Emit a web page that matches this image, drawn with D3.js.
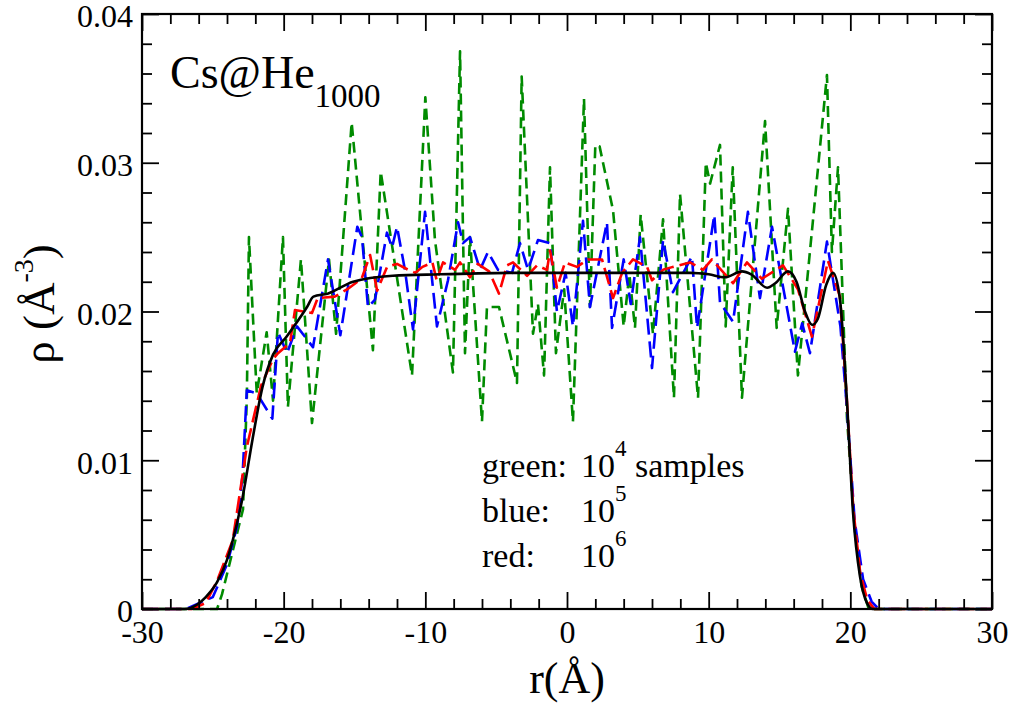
<!DOCTYPE HTML>
<html>
<head>
    <meta charset="utf-8">
    <title>Cs@He1000 density profile</title>
    <script src="https://d3js.org/d3.v7.min.js"></script>
    <style>
        body {
            margin: 0;
            background: white;
        }
        svg text {
            font-family: "Liberation Serif", "Times New Roman", serif;
            fill: black;
        }
        .tick line {
            stroke: black;
            stroke-width: 1.8px;
        }
        .curve {
            fill: none;
            stroke-width: 2.6px;
            stroke-linejoin: round;
        }
    </style>
</head>
<body>
<div id="chart"></div>
<script>
    // density profiles rho(r)
    var greenR = [-30, -24.7, -24.35, -22.87, -22.6, -22.45, -21.9, -21.2, -20.75, -20.05, -19.7, -18.78, -18.0,
        -16.8, -16.3, -15.2, -13.7, -13.15, -10.94, -10.0, -9.32, -8.05, -7.55, -7.2, -6.85, -6.0, -5.65, -4.8,
        -3.53, -3.2, -2.4, -2.05, -1.62, -1.2, -0.78, -0.2, 0.42, 1.2, 1.62, 2.0, 2.3, 3.25, 4.0, 4.4, 4.8, 5.2,
        6.07, 6.78, 7.55, 7.98, 9.25, 9.8, 10.1, 10.8, 11.2, 11.7, 12.35, 13.98, 14.8, 15.6, 16.3, 17.4, 18.35,
        18.7, 19.13, 19.76, 20.3, 20.8, 21.3, 30];
    var greenRho = [0, 0, 0.0010, 0.0067, 0.0142, 0.0250, 0.0145, 0.0186, 0.0140, 0.0250, 0.0136, 0.0235, 0.0125,
        0.0235, 0.0185, 0.0327, 0.0174, 0.0294, 0.0157, 0.0344, 0.0248, 0.0159, 0.0375, 0.0172, 0.0250, 0.0126, 0.0203, 0.0203,
        0.0152, 0.0358, 0.0185, 0.0205, 0.0157, 0.0297, 0.0172, 0.0215, 0.0126, 0.0343, 0.0203, 0.0312, 0.0311, 0.0268, 0.0190, 0.0225, 0.0189, 0.0265,
        0.0185, 0.0262, 0.0142, 0.0279, 0.0142, 0.0300, 0.0286, 0.0312, 0.0190, 0.0297, 0.0142, 0.0328, 0.0189, 0.0269, 0.0157, 0.0265, 0.0359,
        0.0240, 0.0297, 0.0129, 0.0055, 0.0015, 0, 0];

    var blueR = [-30, -26.9, -25.0, -24.0, -23.3, -22.9, -22.6, -21.9, -20.8, -20.4, -19.76, -19.06, -17.93, -16.87,
        -16.0, -14.8, -14.47, -14.05, -13.55, -12.71, -12.35, -12.0, -11.44, -10.87, -10.02, -9.18, -8.4, -7.69,
        -7.34, -6.85, -6.14, -5.58, -4.87, -3.88, -3.32, -2.75, -2.05, -1.2, -0.71, -0.1, 0.42, 1.13, 1.62, 2.82,
        3.18, 4.0, 4.5, 5.15, 6.0, 6.78, 7.48, 8.82, 9.18, 10.4, 10.8, 11.72, 12.77, 13.62, 14.47, 16.09, 16.6, 17.15,
        18.35, 19.3, 19.76, 20.3, 20.9, 21.5, 22.0, 30];
    var blueRho = [0, 0, 0.0008, 0.0030, 0.0055, 0.0090, 0.0147, 0.0145, 0.0128, 0.0186, 0.0172, 0.0190, 0.0176, 0.0235,
        0.0184, 0.0257, 0.0250, 0.0203, 0.0208, 0.0253, 0.0243, 0.0257, 0.0228, 0.0188, 0.0267, 0.0190, 0.0221, 0.0260,
        0.0246, 0.0250, 0.0228, 0.0240, 0.0228, 0.0226, 0.0246, 0.0228, 0.0248, 0.0246, 0.0200, 0.0226, 0.0190, 0.0261, 0.0203, 0.0260,
        0.0189, 0.0235, 0.0205, 0.0250, 0.0162, 0.0248, 0.0213, 0.0237, 0.0189, 0.0265, 0.0206, 0.0193, 0.0267, 0.0209, 0.0257, 0.0173, 0.0192, 0.0172,
        0.0247, 0.0190, 0.0135, 0.0060, 0.0020, 0.0005, 0, 0];

    var redR = [-30, -26.5, -25.5, -24.7, -23.6, -22.6, -21.6, -20.75, -20.4, -19.55, -19.2, -18.0, -17.6, -16.4,
        -15.5, -14.5, -13.9, -13.4, -12.7, -12.0, -11.2, -10.7, -10.2, -9.5, -9.2, -8.75, -7.9, -7.55, -6.85, -6.3,
        -5.5, -4.8, -4.24, -3.81, -2.82, -2.12, -1.41, -1.2, -0.71, -0.14, 0.7, 1.48, 2.47, 3.25, 3.89, 4.66, 5.65,
        6.0, 6.78, 7.48, 8.68, 9.6, 10.23, 11.72, 12.7, 13.76, 15.25, 16.3, 17.29, 18.42, 19.27, 19.76, 20.2, 20.7,
        21.2, 21.7, 30];
    var redRho = [0, 0, 0.0004, 0.0019, 0.0046, 0.0109, 0.0150, 0.0168, 0.0172, 0.0179, 0.0201, 0.0199, 0.0209, 0.0210,
        0.0215, 0.0222, 0.0238, 0.0214, 0.0230, 0.0232, 0.0228, 0.0226, 0.0230, 0.0233, 0.0221, 0.0233, 0.0228, 0.0233, 0.0223, 0.0232,
        0.0227, 0.0212, 0.0231, 0.0233, 0.0224, 0.0231, 0.0228, 0.0241, 0.0216, 0.0233, 0.0230, 0.0235, 0.0235, 0.0209, 0.0226, 0.0235, 0.0230,
        0.0221, 0.0228, 0.0230, 0.0233, 0.0228, 0.0235, 0.0219, 0.0233, 0.0222, 0.0231, 0.0215, 0.0183, 0.0234, 0.0210, 0.0140, 0.0068, 0.0024,
        0.0006, 0, 0];

    var blackR = [-30, -27, -26.1, -25.5, -24.7, -24.0, -23.6, -22.9, -22.2, -21.5, -20.75, -19.8, -18.35, -17.9,
        -16.9, -15.1, -12.3, -9.0, -3.0, 8.7, 10.0, 11.15, 12.35, 13.0, 14.12, 14.7, 15.6, 16.2, 16.8, 17.3, 17.7,
        18.3, 18.78, 19.27, 19.76, 20.19, 20.68, 21.18, 21.6, 30];
    var blackRho = [0, 0, 0.0003, 0.0008, 0.0018, 0.0033, 0.0046, 0.0075, 0.0114, 0.0149, 0.0171, 0.0183, 0.0203, 0.0210,
        0.0212, 0.0220, 0.0224, 0.0225, 0.0226, 0.0226, 0.0225, 0.0223, 0.0227, 0.0225, 0.0216, 0.0219, 0.0227, 0.0220, 0.0200, 0.0191, 0.0195,
        0.0218, 0.0226, 0.0208, 0.0140, 0.0065, 0.0022, 0.0004, 0, 0];

    var xMajorTicks = [-30, -20, -10, 0, 10, 20, 30];
    var xMinorTicks = [-28, -26, -24, -22, -18, -16, -14, -12, -8, -6, -4, -2, 2, 4, 6, 8, 12, 14, 16, 18, 22, 24, 26, 28];
    var yMajorTicks = [0, 0.01, 0.02, 0.03, 0.04];
    var yMinorTicks = [0.002, 0.004, 0.006, 0.008, 0.012, 0.014, 0.016, 0.018, 0.022, 0.024, 0.026, 0.028,
        0.032, 0.034, 0.036, 0.038];
    var yTickLabels = ["0", "0.01", "0.02", "0.03", "0.04"];

    var legendRows = [
        {name: "green:", exp: "4", tail: " samples"},
        {name: "blue:", exp: "5", tail: ""},
        {name: "red:", exp: "6", tail: ""}
    ];

    // Parameters
    var outerWidth = 1011;
    var outerHeight = 704;
    var plot = {left: 142, right: 992, top: 14, bottom: 609};
    var majorLen = 17;
    var minorLen = 10;

    var svg = d3.select("#chart").append("svg")
        .attr("width", outerWidth)
        .attr("height", outerHeight);

    var x = d3.scaleLinear().domain([-30, 30]).range([plot.left, plot.right]);
    var y = d3.scaleLinear().domain([0, 0.04]).range([plot.bottom, plot.top]);

    // curves: green at the bottom, black on top
    function series(rs, vals) {
        return rs.map(function(r, i) { return [r, vals[i]]; });
    }
    var curves = [
        {data: series(greenR, greenRho), color: "#008b00", dash: "11,6", curve: d3.curveLinear},
        {data: series(blueR, blueRho), color: "#0000ff", dash: "16,7", curve: d3.curveLinear},
        {data: series(redR, redRho), color: "#ff0000", dash: "17,6", curve: d3.curveLinear},
        {data: series(blackR, blackRho), color: "#000000", dash: null, curve: d3.curveMonotoneX}
    ];

    curves.forEach(function(c) {
        var line = d3.line()
            .x(function(d) { return x(d[0]); })
            .y(function(d) { return y(d[1]); })
            .curve(c.curve);
        svg.append("path")
            .datum(c.data)
            .attr("class", "curve")
            .attr("stroke", c.color)
            .attr("stroke-dasharray", c.dash)
            .attr("d", line);
    });

    // ticks on all four sides, pointing inward
    function tickAxis(axisFn, scale, values, len, transform, labels) {
        var ax = axisFn(scale).tickValues(values).tickSizeInner(-len).tickSizeOuter(0);
        if (labels) ax.tickFormat(labels);
        else ax.tickFormat("");
        var g = svg.append("g").attr("transform", transform).call(ax);
        g.select(".domain").remove();
        return g;
    }

    var xb = tickAxis(d3.axisBottom, x, xMajorTicks, majorLen, "translate(0," + plot.bottom + ")",
        function(d) { return String(d); });
    xb.call(function(g) { g.selectAll("text").attr("y", 11).attr("font-size", 32).attr("fill", "black"); });
    tickAxis(d3.axisBottom, x, xMinorTicks, minorLen, "translate(0," + plot.bottom + ")");
    tickAxis(d3.axisTop, x, xMajorTicks, majorLen, "translate(0," + plot.top + ")");
    tickAxis(d3.axisTop, x, xMinorTicks, minorLen, "translate(0," + plot.top + ")");

    var yl = tickAxis(d3.axisLeft, y, yMajorTicks, majorLen, "translate(" + plot.left + ",0)",
        function(d, i) { return yTickLabels[i]; });
    yl.call(function(g) {
        g.selectAll("text").attr("x", -9).attr("dy", "0.4em").attr("font-size", 32).attr("fill", "black");
    });
    tickAxis(d3.axisLeft, y, yMinorTicks, minorLen, "translate(" + plot.left + ",0)");
    tickAxis(d3.axisRight, y, yMajorTicks, majorLen, "translate(" + plot.right + ",0)");
    tickAxis(d3.axisRight, y, yMinorTicks, minorLen, "translate(" + plot.right + ",0)");

    svg.append("rect")
        .attr("x", plot.left)
        .attr("y", plot.top)
        .attr("width", plot.right - plot.left)
        .attr("height", plot.bottom - plot.top)
        .attr("fill", "none")
        .attr("stroke", "black")
        .attr("stroke-width", 2.2);

    // axis titles
    svg.append("text")
        .attr("x", (plot.left + plot.right) / 2)
        .attr("y", 693)
        .attr("text-anchor", "middle")
        .attr("font-size", 44)
        .text("r(Å)");

    var ylab = svg.append("text")
        .attr("transform", "translate(54,304) rotate(-90)")
        .attr("text-anchor", "middle")
        .attr("font-size", 45);
    ylab.append("tspan").text("ρ (Å");
    ylab.append("tspan").attr("font-size", 28).attr("dy", -21).text("-3");
    ylab.append("tspan").attr("dy", 21).text(")");

    // label in the corner
    var title = svg.append("text")
        .attr("x", 170)
        .attr("y", 88)
        .attr("font-size", 46);
    title.append("tspan").text("Cs@He");
    title.append("tspan").attr("font-size", 33).attr("dy", 19).text("1000");

    // legend text
    var legend = svg.append("g");
    legendRows.forEach(function(row, i) {
        var t = legend.append("text")
            .attr("x", 482)
            .attr("y", 477 + i * 45)
            .attr("font-size", 34);
        t.append("tspan").text(row.name);
        t.append("tspan").attr("x", 581).text("10");
        t.append("tspan").attr("font-size", 23).attr("dy", -21).text(row.exp);
        if (row.tail) t.append("tspan").attr("dy", 21).text(row.tail);
    });
</script>
</body>
</html>
